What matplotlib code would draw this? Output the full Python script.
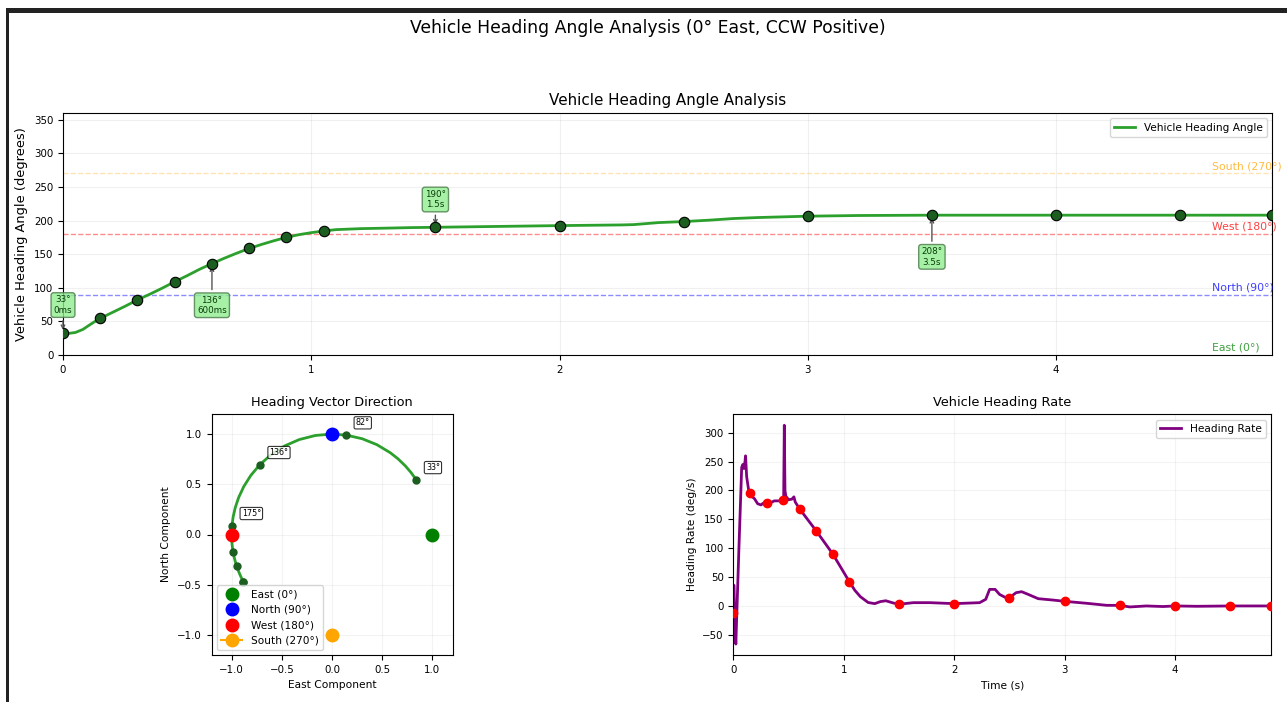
import matplotlib
matplotlib.use('Agg')
import matplotlib.pyplot as plt
from matplotlib.patches import Rectangle
import numpy as np

# ── Heading trace (s, degrees; 0° = East, CCW positive) ─────────────────────
time_s = [0.0, 0.02, 0.05, 0.08, 0.1, 0.125, 0.15, 0.2, 0.25, 0.3, 0.35, 0.4,
          0.45, 0.5, 0.55, 0.6, 0.65, 0.7, 0.75, 0.8, 0.85, 0.9, 0.95, 1.0,
          1.05, 1.1, 1.2, 1.3, 1.4, 1.5, 1.7, 2.0, 2.25, 2.3, 2.35, 2.4, 2.5,
          2.6, 2.7, 2.8, 2.9, 3.0, 3.2, 3.5, 4.0, 4.5, 4.87]
heading_deg = [33, 32, 33.5, 38, 43, 49, 54.5, 63.5, 72.5, 82, 90.5, 99.5,
               109, 118, 127.5, 136, 144, 151.5, 158.5, 164.5, 170, 175, 179, 182,
               184.5, 186.5, 188, 188.7, 189.5, 190, 191, 192.5, 193.5, 194, 195.5, 197, 198.5,
               200.5, 203, 204.5, 205.5, 206.5, 207.5, 208, 208, 208, 208]

# ── Heading rate trace (s, deg/s) ───────────────────────────────────────────
rate_t = [0.0, 0.004, 0.012, 0.022, 0.05, 0.075, 0.085, 0.095, 0.105, 0.11, 0.12,
          0.14, 0.15, 0.17, 0.19, 0.22, 0.25, 0.27, 0.3, 0.34, 0.37, 0.43, 0.455,
          0.461, 0.467, 0.475, 0.5, 0.53, 0.548, 0.56, 0.6, 0.75, 0.9, 1.05, 1.1,
          1.15, 1.22, 1.28, 1.33, 1.38, 1.45, 1.5, 1.63, 1.78, 2.0, 2.23, 2.285,
          2.32, 2.37, 2.41, 2.46, 2.5, 2.56, 2.61, 2.67, 2.76, 2.89, 3.0, 3.2,
          3.38, 3.5, 3.59, 3.74, 3.89, 4.0, 4.2, 4.5, 4.87]
rate_dps = [-13, 36, -15, -66, 100, 240, 245, 238, 250, 260, 224,
            198, 196, 189, 186, 177, 175, 178, 178, 179, 182, 182, 185,
            313, 200, 190, 184, 185, 189, 180, 168, 130, 90, 42, 27,
            16, 6, 4, 7.5, 9, 5, 3, 5.7, 5.7, 4, 5.7, 11.5,
            28.7, 28.7, 20, 15, 14.4, 23, 24.7, 20, 12.6, 10.3, 8, 4.6,
            1.1, 1, -1.7, 0, -1, 0, -0.6, 0, 0]

# ── Sample points shown as markers ──────────────────────────────────────────
key_t       = [0.0, 0.15, 0.3, 0.45, 0.6, 0.75, 0.9, 1.05, 1.5, 2.0, 2.5, 3.0, 3.5, 4.0, 4.5, 4.87]
key_heading = [33, 54.5, 82, 109, 136, 158.5, 175, 184.5, 190, 192.5, 198.5, 206.5, 208, 208, 208, 208]
key_rate    = [-13, 196, 178, 183, 168, 130, 90, 42, 3, 4, 14.4, 8, 1, 0, 0, 0]
callout_idx = [0, 4, 8, 12]
callout_txt = ['0ms', '600ms', '1.5s', '3.5s']

# compass references
cardinal_names  = ['East', 'North', 'West', 'South']
cardinal_deg    = [0, 90, 180, 270]
cardinal_colors = ['green', 'blue', 'red', 'orange']

W, H = 1287, 702
fig = plt.figure(figsize=(W / 100, H / 100), dpi=100)
fig.patch.set_facecolor('white')

# window frame (top bar + left edge)
fig.add_artist(Rectangle((6 / W, 0), 3 / W, 1 - 8 / H, transform=fig.transFigure,
                         fc='#222222', ec='none', zorder=10))
fig.add_artist(Rectangle((6 / W, 1 - 13 / H), 1 - 6 / W, 5 / H, transform=fig.transFigure,
                         fc='#222222', ec='none', zorder=10))

fig.suptitle('Vehicle Heading Angle Analysis (0° East, CCW Positive)',
             x=0.503, y=1 - 28 / H, va='center', fontsize=12.4)

t_end = time_s[-1]

# ── Top: heading vs time ────────────────────────────────────────────────────
ax = fig.add_axes([63 / W, 1 - 355 / H, 1209 / W, 242 / H])
ax.plot(time_s, heading_deg, color='#2ca02c', lw=2, label='Vehicle Heading Angle', zorder=3)
ax.plot(key_t, key_heading, 'o', color='#1b5e20', mec='black', mew=0.8, ms=7.5, zorder=4)

for name, deg, clr in zip(cardinal_names, cardinal_deg, cardinal_colors):
    if deg:
        ax.axhline(deg, color=clr, ls='--', lw=1, alpha=0.45 if deg != 270 else 0.3)
    ax.text(t_end * 0.95, deg + 3, f'{name} ({deg}°)', color=clr, alpha=0.75,
            fontsize=7.8, va='bottom', ha='left')

for k, (i, lbl) in enumerate(zip(callout_idx, callout_txt)):
    dy = 20 if k % 2 == 0 else -30
    ax.annotate(f'{key_heading[i]:.0f}°\n{lbl}', xy=(key_t[i], key_heading[i]),
                xytext=(0, dy), textcoords='offset points', ha='center', va='center',
                fontsize=6.3, color='#0b3d0b',
                bbox=dict(boxstyle='round,pad=0.3', fc='lightgreen', ec='#4a7a4a', alpha=0.8),
                arrowprops=dict(arrowstyle='->', color='#555555', lw=1))

ax.set_xlim(0, t_end)
ax.set_ylim(0, 360)
ax.set_yticks(np.arange(0, 351, 50))
ax.set_ylabel('Vehicle Heading Angle (degrees)', fontsize=9.4)
ax.set_title('Vehicle Heading Angle Analysis', fontsize=10.9)
ax.tick_params(labelsize=7.4)
ax.grid(True, alpha=0.18)
ax.legend(loc='upper right', fontsize=7.6)

# ── Bottom left: heading unit vector ────────────────────────────────────────
axv = fig.add_axes([63 / W, 1 - 655 / H, 538 / W, 241 / H])
rad = np.radians(heading_deg)
axv.plot(np.cos(rad), np.sin(rad), color='#2ca02c', lw=2)
kr = np.radians(key_heading[::2])
axv.plot(np.cos(kr), np.sin(kr), 'o', color='#1b5e20', ms=5)
for d in key_heading[::2][:4]:
    r = np.radians(d)
    axv.annotate(f'{d:.0f}°', xy=(np.cos(r), np.sin(r)), xytext=(7, 7),
                 textcoords='offset points', fontsize=5.8,
                 bbox=dict(boxstyle='round,pad=0.2', fc='white', ec='black', lw=0.8, alpha=0.8))
for name, deg, clr in zip(cardinal_names, cardinal_deg, cardinal_colors):
    r = np.radians(deg)
    axv.plot(np.cos(r), np.sin(r), 'o' if deg != 270 else 'o-', color=clr, ms=9,
             label=f'{name} ({deg}°)')
axv.set_xlim(-1.2, 1.2)
axv.set_ylim(-1.2, 1.2)
axv.set_aspect('equal', adjustable='box')
axv.set_xticks([-1, -0.5, 0, 0.5, 1])
axv.set_yticks([-1, -0.5, 0, 0.5, 1])
axv.set_xlabel('East Component', fontsize=7.7)
axv.set_ylabel('North Component', fontsize=7.7)
axv.set_title('Heading Vector Direction', fontsize=9.3)
axv.tick_params(labelsize=7.4)
axv.grid(True, alpha=0.15)
axv.legend(loc='lower left', fontsize=7.6)

# ── Bottom right: heading rate ──────────────────────────────────────────────
axr = fig.add_axes([733.4 / W, 1 - 655 / H, 537.8 / W, 240.7 / H])
axr.plot(rate_t, rate_dps, color='purple', lw=2, label='Heading Rate')
axr.plot(key_t, key_rate, 'o', color='red', ms=6, zorder=4)
axr.set_xlim(0, t_end)
axr.set_yticks(np.arange(-50, 301, 50))
axr.set_xlabel('Time (s)', fontsize=7.7)
axr.set_ylabel('Heading Rate (deg/s)', fontsize=7.7)
axr.set_title('Vehicle Heading Rate', fontsize=9.3)
axr.tick_params(labelsize=7.4)
axr.grid(True, alpha=0.15)
axr.legend(loc='upper right', fontsize=7.6)

fig.savefig('out.png', dpi=100, facecolor='white')
